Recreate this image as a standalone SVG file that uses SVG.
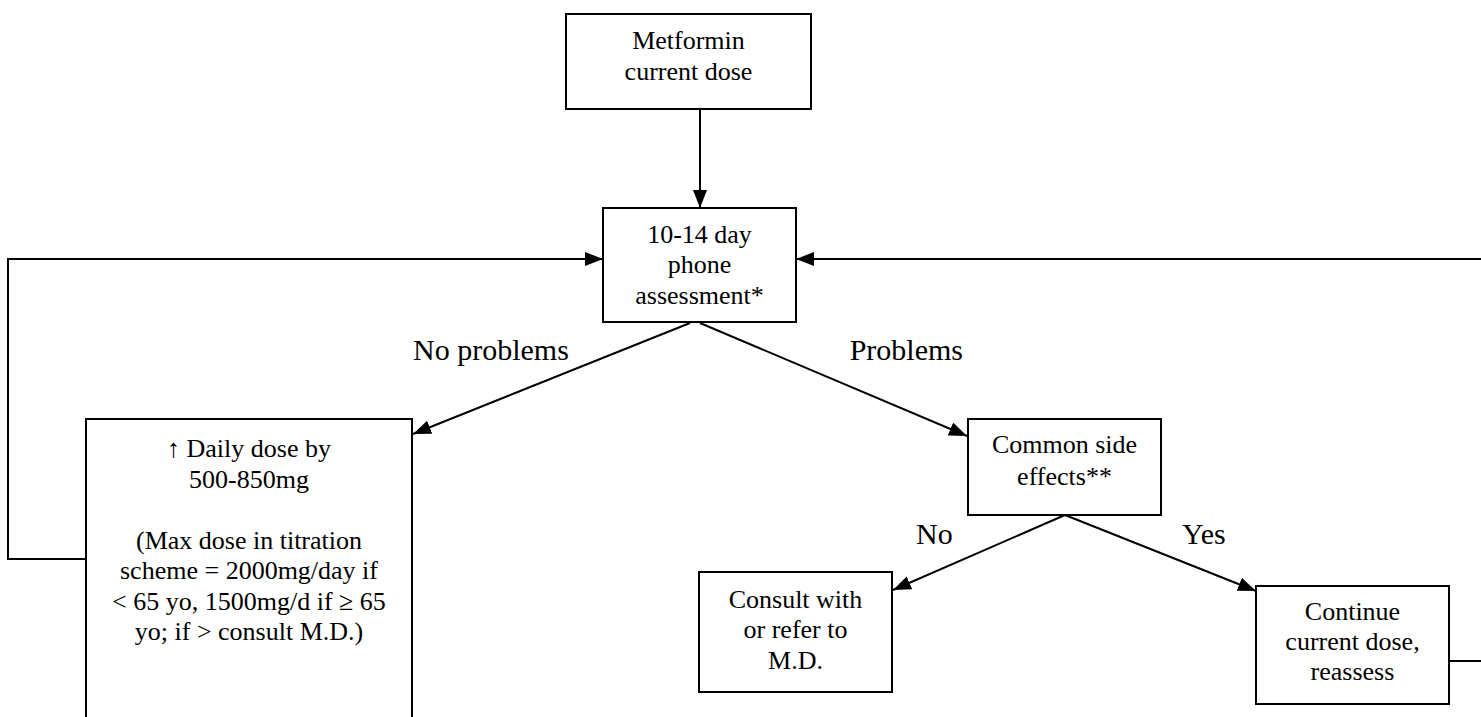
<svg xmlns="http://www.w3.org/2000/svg" width="1481" height="717" viewBox="0 0 1481 717">
<style>
.box{fill:#fff;stroke:#000;stroke-width:2}
.t{font-family:'Liberation Serif','Times New Roman',Times,'DejaVu Serif',serif;font-size:26px;fill:#000;text-anchor:middle}
.lbl{font-family:'Liberation Serif','Times New Roman',Times,'DejaVu Serif',serif;font-size:30px;fill:#000}
.c{fill:none;stroke:#000;stroke-width:2}
</style>
<defs>
<marker id="ah" markerUnits="userSpaceOnUse" markerWidth="18" markerHeight="14" refX="18" refY="7" orient="auto">
<path d="M0,0 L18,7 L0,14 z" fill="#000"/>
</marker>
</defs>
<rect width="1481" height="717" fill="#fff"/>
<g id="connectors">
<line class="c" x1="700" y1="109" x2="700" y2="208" marker-end="url(#ah)"/>
<polyline class="c" points="86,559 8,559 8,259 603,259" marker-end="url(#ah)"/>
<line class="c" x1="1481" y1="259" x2="796" y2="259" marker-end="url(#ah)"/>
<line class="c" x1="1449" y1="661" x2="1481" y2="661"/>
<line class="c" x1="690" y1="323" x2="413" y2="434" marker-end="url(#ah)"/>
<line class="c" x1="700" y1="323" x2="967" y2="436" marker-end="url(#ah)"/>
<line class="c" x1="1065" y1="515" x2="893" y2="590" marker-end="url(#ah)"/>
<line class="c" x1="1065" y1="515" x2="1256" y2="591" marker-end="url(#ah)"/>
<text class="lbl" x="413" y="360" font-family="Liberation Serif, serif">No problems</text>
<text class="lbl" x="963" y="360" text-anchor="end" font-family="Liberation Serif, serif">Problems</text>
<text class="lbl" x="916" y="544" font-family="Liberation Serif, serif">No</text>
<text class="lbl" x="1182" y="544" font-family="Liberation Serif, serif">Yes</text>
</g>
<g id="metformin">
<rect class="box" x="566" y="14" width="245" height="95"/>
<text class="t" x="688.5" y="49">Metformin</text>
<text class="t" x="688.5" y="80">current dose</text>
</g>
<g id="phone">
<rect class="box" x="603" y="208" width="193" height="114"/>
<text class="t" x="699.5" y="243">10-14 day</text>
<text class="t" x="699.5" y="273">phone</text>
<text class="t" x="699.5" y="304">assessment*</text>
</g>
<g id="increase">
<rect class="box" x="86" y="419" width="326" height="320"/>
<text class="t" x="249" y="457">↑ Daily dose by</text>
<text class="t" x="249" y="487.5">500-850mg</text>
<text class="t" x="249" y="548.5">(Max dose in titration</text>
<text class="t" x="249" y="579">scheme = 2000mg/day if</text>
<text class="t" x="249" y="609.5">&lt; 65 yo, 1500mg/d if ≥ 65</text>
<text class="t" x="249" y="640">yo; if &gt; consult M.D.)</text>
</g>
<g id="sideeffects">
<rect class="box" x="968" y="419" width="193" height="96"/>
<text class="t" x="1064.5" y="453">Common side</text>
<text class="t" x="1064.5" y="485">effects**</text>
</g>
<g id="consult">
<rect class="box" x="699" y="572" width="193" height="120"/>
<text class="t" x="795.5" y="608">Consult with</text>
<text class="t" x="795.5" y="638">or refer to</text>
<text class="t" x="795.5" y="669">M.D.</text>
</g>
<g id="continue">
<rect class="box" x="1256" y="586" width="193" height="118"/>
<text class="t" x="1352.5" y="620">Continue</text>
<text class="t" x="1352.5" y="650">current dose,</text>
<text class="t" x="1352.5" y="680">reassess</text>
</g>
</svg>
